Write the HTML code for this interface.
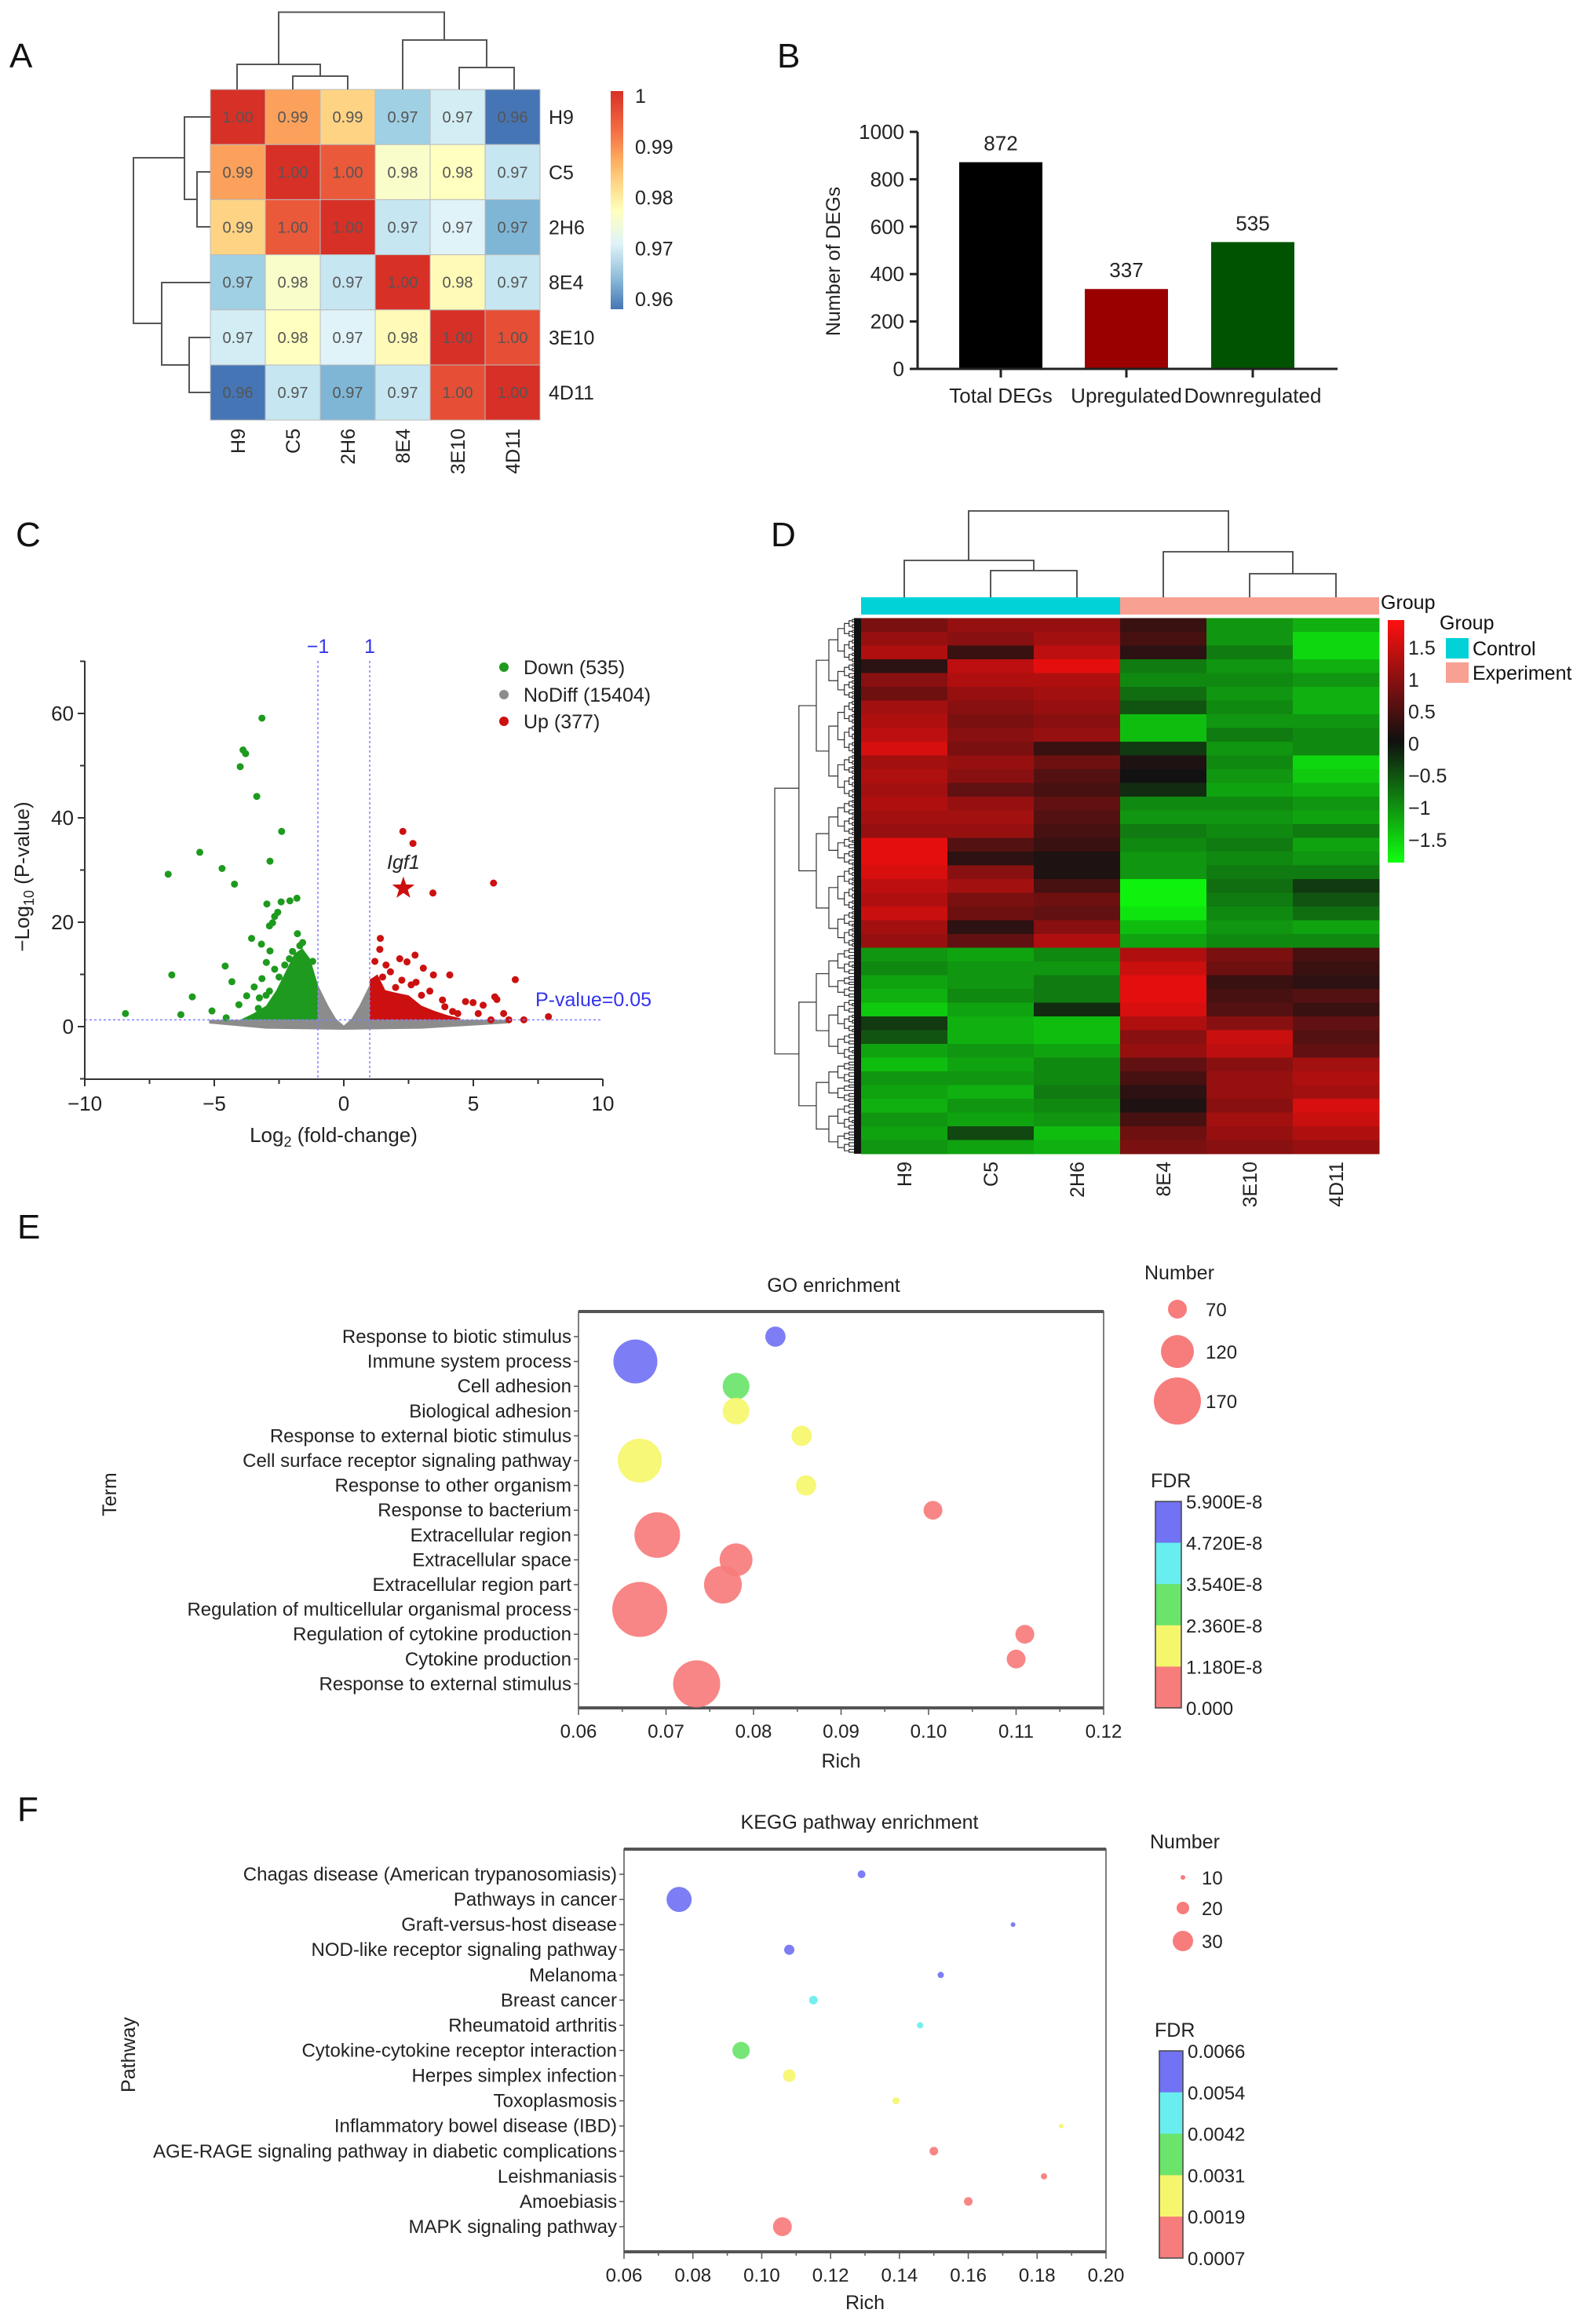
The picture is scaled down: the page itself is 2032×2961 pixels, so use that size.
<!DOCTYPE html>
<html><head><meta charset="utf-8"><title>DEG analysis figure</title>
<style>
html,body{margin:0;padding:0;background:#fff;}
svg{display:block;font-family:"Liberation Sans",sans-serif;}
</style></head>
<body>
<svg id="fig" xmlns="http://www.w3.org/2000/svg" width="2032" height="2961" viewBox="0 0 2032 2961">
<defs>
<linearGradient id="gradA" x1="0" y1="0" x2="0" y2="1">
<stop offset="0" stop-color="#d73027"/><stop offset="0.18" stop-color="#f46d43"/><stop offset="0.32" stop-color="#fdae61"/><stop offset="0.45" stop-color="#fee090"/><stop offset="0.55" stop-color="#ffffbf"/><stop offset="0.7" stop-color="#e0f3f8"/><stop offset="0.85" stop-color="#91bfdb"/><stop offset="1" stop-color="#4575b4"/>
</linearGradient>
<linearGradient id="gradD" x1="0" y1="0" x2="0" y2="1">
<stop offset="0" stop-color="#ff1010"/><stop offset="0.5" stop-color="#101010"/><stop offset="1" stop-color="#10ff10"/>
</linearGradient>
</defs>
<g font-size="44" fill="#111">
<text x="12" y="86">A</text>
<text x="990" y="86">B</text>
<text x="20" y="696">C</text>
<text x="982" y="696">D</text>
<text x="22" y="1578">E</text>
<text x="22" y="2320">F</text>
</g>
<g id="pa"></g>
<g id="pb"></g>
<g id="pc"></g>
<g id="pd"></g>
<g id="pe"></g>
<g id="pf"></g>
</svg>
<script>
// ---------- DATA ----------
const sampleNames = ['H9','C5','2H6','8E4','3E10','4D11'];
const corrRowH9   = [1.000,0.990,0.986,0.969,0.973,0.960];
const corrRowC5   = [0.990,1.000,0.996,0.978,0.979,0.972];
const corrRow2H6  = [0.986,0.996,1.000,0.972,0.974,0.966];
const corrRow8E4  = [0.969,0.978,0.972,1.000,0.980,0.972];
const corrRow3E10 = [0.973,0.979,0.974,0.980,1.000,0.997];
const corrRow4D11 = [0.960,0.972,0.966,0.972,0.997,1.000];
const corrTicks = [1,0.99,0.98,0.97,0.96];

const degCategories = ['Total DEGs','Upregulated','Downregulated'];
const degValues = [872,337,535];
const degTicks = [0,200,400,600,800,1000];

const volcXTicks = [-10,-5,0,5,10];
const volcYTicks = [0,20,40,60];
const downX = [-3.16,-3.89,-3.79,-4.0,-3.36,-2.4,-5.56,-2.85,-6.78,-4.70,-4.22,-1.81,-2.42,-2.08,-2.97,-2.55,-2.67,-2.75,-2.87,-3.56,-3.18,-4.58,-2.85,-2.99,-6.64,-4.32,-3.16,-5.85,-5.09,-8.43,-6.29,-4.05,-3.75,-4.54,-3.46,-3.26,-2.87,-2.67,-2.28,-1.98,-1.79,-1.59,-1.49,-1.4,-1.2,-1.7,-2.1,-2.5,-3.0,-3.3];
const downY = [59.1,53,52.3,49.8,44.1,37.4,33.4,31.7,29.2,30.3,27.3,24.6,23.9,24.1,23.5,21.9,21.1,19.9,19.3,16.9,15.8,11.6,14.5,12.3,9.9,8.6,9.2,5.7,3.0,2.5,2.3,4.2,5.9,1.7,7.6,5.5,6.8,11,11.8,14.4,17.8,16.1,12.7,10.1,12.5,15.5,13.0,9.5,6.0,3.5];
const upX = [2.28,2.67,5.78,3.44,1.41,1.39,2.16,2.44,2.75,1.63,4.09,6.62,3.46,3.07,2.79,2.24,5.83,5.91,4.7,4.99,5.38,3.81,3.32,4.40,6.17,6.37,6.95,7.9,5.68,5.19,1.2,1.8,2.0,2.6,3.0,3.9,4.2,1.5];
const upY = [37.4,35.1,27.5,25.6,16.9,14.8,13,12.4,13.7,11.8,9.9,9,9.9,11.2,8.5,8.9,5.7,5.2,4.8,4.6,4.1,5.1,6.8,2.5,2.5,1.3,1.3,1.9,1.3,2.5,12.5,10.5,7.5,8.0,6.0,3.8,2.9,9.5];
const downDenseX = [-4.0,-3.5,-3.0,-2.6,-2.2,-1.9,-1.6,-1.3,-1.0,-1.0];
const downDenseY = [1.3,2.5,4.0,7.0,11.0,14.0,15.0,13.0,8.0,1.3];
const upDenseX = [1.0,1.0,1.3,1.6,2.0,2.5,3.0,3.5,4.0,4.5,4.5];
const upDenseY = [1.3,9.0,10.0,7.0,6.5,6.0,4.0,3.0,2.2,1.6,1.3];
const noDiffX = [-5.2,-1.0,-1.0,-0.6,-0.3,0.0,0.3,0.6,1.0,1.0,6.3,6.3,3.0,0.0,-3.0,-5.2];
const noDiffY = [1.3,1.3,8.0,4.0,1.5,0.2,1.5,4.0,8.0,1.3,1.3,0.6,-0.4,-0.6,-0.4,0.6];
const igf1X = 2.3, igf1Y = 26.5;

const exprH9   = [0.8,1.0,1.2,0.2,0.9,0.7,1.1,1.2,1.3,1.5,1.1,1.2,1.1,1.2,1.1,1.0,1.6,1.6,1.5,1.3,1.2,1.4,1.1,1.0,-1.0,-0.9,-1.1,-1.2,-1.4,-0.3,-0.5,-1.1,-1.3,-1.0,-1.1,-1.2,-1.0,-1.1,-1.0];
const exprC5   = [1.0,0.9,0.3,1.3,1.2,1.0,0.9,0.8,0.9,0.8,1.0,0.9,0.6,1.0,1.1,1.0,0.5,0.2,0.9,1.1,0.8,0.7,0.2,0.6,-1.1,-1.0,-1.0,-0.9,-1.1,-1.2,-1.2,-1.0,-1.1,-1.0,-1.2,-1.0,-1.1,-0.4,-1.1];
const expr2H6  = [1.0,1.1,1.3,1.6,1.2,1.1,1.0,0.9,1.0,0.3,0.7,0.5,0.4,0.6,0.5,0.4,0.3,0.1,0.1,0.4,0.7,0.6,0.9,1.2,-0.9,-1.0,-0.8,-0.8,-0.2,-1.3,-1.3,-1.1,-0.9,-0.9,-0.8,-0.9,-1.0,-1.3,-1.2];
const expr8E4  = [0.3,0.4,0.2,-0.8,-0.9,-0.7,-0.5,-1.3,-1.3,-0.3,0.1,0.0,-0.2,-0.9,-1.0,-0.8,-0.9,-1.0,-1.0,-1.7,-1.7,-1.6,-1.3,-1.1,1.2,1.4,1.6,1.6,1.5,1.2,0.9,1.0,0.6,0.4,0.2,0.1,0.4,0.7,0.8];
const expr3E10 = [-1.0,-1.0,-0.8,-1.0,-0.9,-1.0,-0.9,-1.0,-0.8,-1.0,-0.9,-1.0,-1.1,-0.9,-1.0,-0.9,-0.8,-0.9,-0.8,-0.7,-0.8,-0.9,-1.0,-0.9,0.8,0.7,0.3,0.4,0.5,0.9,1.4,1.3,0.9,1.0,1.0,0.9,1.1,1.0,0.9];
const expr4D11 = [-1.2,-1.5,-1.5,-1.2,-1.0,-1.2,-1.2,-1.0,-0.9,-0.9,-1.5,-1.4,-1.2,-1.0,-1.1,-0.8,-1.1,-1.0,-0.8,-0.3,-0.5,-0.7,-1.1,-0.9,0.4,0.3,0.2,0.5,0.3,0.6,0.5,0.6,1.1,1.2,1.1,1.5,1.4,1.2,1.0];
const exprTicks = [1.5,1,0.5,0,-0.5,-1,-1.5];

const goTerms = ['Response to biotic stimulus','Immune system process','Cell adhesion','Biological adhesion','Response to external biotic stimulus','Cell surface receptor signaling pathway','Response to other organism','Response to bacterium','Extracellular region','Extracellular space','Extracellular region part','Regulation of multicellular organismal process','Regulation of cytokine production','Cytokine production','Response to external stimulus'];
const goRich = [0.0825,0.0665,0.078,0.078,0.0855,0.067,0.086,0.1005,0.069,0.078,0.0765,0.067,0.111,0.110,0.0735];
const goNumber = [75,159,98,98,75,159,75,70,165,120,137,198,70,70,170];
const goFdr = [5.2e-8,5.2e-8,3.0e-8,1.6e-8,1.6e-8,1.6e-8,1.6e-8,0.5e-8,0.5e-8,0.5e-8,0.5e-8,0.5e-8,0.5e-8,0.5e-8,0.5e-8];
const goXTicks = [0.06,0.07,0.08,0.09,0.10,0.11,0.12];
const goSizeLegend = [70,120,170];
const goFdrTicks = ['5.900E-8','4.720E-8','3.540E-8','2.360E-8','1.180E-8','0.000'];

const keggTerms = ['Chagas disease (American trypanosomiasis)','Pathways in cancer','Graft-versus-host disease','NOD-like receptor signaling pathway','Melanoma','Breast cancer','Rheumatoid arthritis','Cytokine-cytokine receptor interaction','Herpes simplex infection','Toxoplasmosis','Inflammatory bowel disease (IBD)','AGE-RAGE signaling pathway in diabetic complications','Leishmaniasis','Amoebiasis','MAPK signaling pathway'];
const keggRich = [0.129,0.076,0.173,0.108,0.152,0.115,0.146,0.094,0.108,0.139,0.187,0.150,0.182,0.160,0.106];
const keggNumber = [14,36,10,17,12,15,12,26,20,13,10,15,12,15,28];
const keggFdr = [0.0060,0.0060,0.0060,0.0060,0.0060,0.0048,0.0048,0.0036,0.0025,0.0025,0.0025,0.0012,0.0012,0.0012,0.0012];
const keggXTicks = [0.06,0.08,0.10,0.12,0.14,0.16,0.18,0.20];
const keggSizeLegend = [10,20,30];
const keggFdrTicks = ['0.0066','0.0054','0.0042','0.0031','0.0019','0.0007'];

// ---------- HELPERS ----------
const NS='http://www.w3.org/2000/svg';
function mk(parent,tag,attrs,text){const e=document.createElementNS(NS,tag);for(const k in attrs)e.setAttribute(k,attrs[k]);if(text!=null)e.textContent=text;parent.appendChild(e);return e;}
function lerp(a,b,t){return a+(b-a)*t;}
let el;

// ---------- PANEL A ----------
(function(){
const g=document.getElementById('pa');
const corr=[corrRowH9,corrRowC5,corrRow2H6,corrRow8E4,corrRow3E10,corrRow4D11];
const x0=268,y0=114,cw=70,ch=70.2;
const stops=[[0.96,[69,117,180]],[0.965,[116,173,209]],[0.970,[171,217,233]],[0.974,[224,243,248]],[0.979,[255,255,191]],[0.985,[254,224,144]],[0.989,[253,174,97]],[0.994,[244,109,67]],[1.0,[215,48,39]]];
function col(v){for(let i=1;i<stops.length;i++){if(v<=stops[i][0]){const t=(v-stops[i-1][0])/(stops[i][0]-stops[i-1][0]);const a=stops[i-1][1],b=stops[i][1];return 'rgb('+a.map((c,j)=>Math.round(lerp(c,b[j],t))).join(',')+')';}}return 'rgb(215,48,39)';}
corr.forEach((row,r)=>row.forEach((v,c)=>{
 el=mk(g,'rect',{x:x0+c*cw,y:y0+r*ch,width:cw,height:ch,fill:col(v),stroke:'#bbb','stroke-width':1});
 
 
 el=mk(g,'text',{x:x0+c*cw+cw/2,y:y0+r*ch+ch/2+7,'text-anchor':'middle','font-size':20,fill:'#555'},v.toFixed(2));
 
 
}));
sampleNames.forEach((n,i)=>{
 el=mk(g,'text',{x:699,y:y0+i*ch+ch/2+9,'font-size':25,fill:'#222'},n);
 
 
 const cx=x0+i*cw+cw/2;
 el=mk(g,'text',{x:0,y:0,'font-size':25,fill:'#222','text-anchor':'end',transform:'translate('+(cx+9)+',546) rotate(-90)'},n);
 
 
});
const sg={stroke:'#555','stroke-width':2,fill:'none'};
const topPaths=['M373,114V97H443V114','M302,114V82H408V97','M585,114V86H655V86V114','M513,114V51H620V86','M355,82V15.5H566V51'];
topPaths.forEach(d=>{el=mk(g,'path',Object.assign({d:d},sg));});
const leftPaths=['M268,219H251V289H268','M268,149H235V254H251','M268,430H241V500H268','M268,360H206V465H241','M235,201H170V412H206'];
leftPaths.forEach(d=>{el=mk(g,'path',Object.assign({d:d},sg));});
el=mk(g,'rect',{x:778,y:116,width:16,height:278,fill:'url(#gradA)'});


corrTicks.forEach(t=>{
 const y=122+(1-t)/0.04*259;
 el=mk(g,'text',{x:809,y:y+9,'font-size':25,fill:'#222'},String(t));
 
 
});
})();

// ---------- PANEL B ----------
(function(){
const g=document.getElementById('pb');
const yS=v=>470-v/1000*302;
const centers=[1275,1435,1596], bw=106, cols=['#000000','#9b0000','#005300'];
degTicks.forEach(t=>{
 el=mk(g,'line',{x1:1159,x2:1169,y1:yS(t),y2:yS(t),stroke:'#222','stroke-width':3});
 
 
 el=mk(g,'text',{x:1152,y:yS(t)+9,'text-anchor':'end','font-size':26,fill:'#222'},String(t));
 
 
});
degValues.forEach((v,i)=>{
 el=mk(g,'rect',{x:centers[i]-bw/2,y:yS(v),width:bw,height:470-yS(v),fill:cols[i]});
 
 
 el=mk(g,'text',{x:centers[i],y:yS(v)-15,'text-anchor':'middle','font-size':26,fill:'#222'},String(v));
 
 
 el=mk(g,'line',{x1:centers[i],x2:centers[i],y1:470,y2:481,stroke:'#222','stroke-width':3});
 
 
 el=mk(g,'text',{x:centers[i],y:513,'text-anchor':'middle','font-size':26,fill:'#222'},degCategories[i]);
 
 
});
el=mk(g,'path',{d:'M1169,168V470H1704',stroke:'#222','stroke-width':3,fill:'none'});


el=mk(g,'text',{x:0,y:0,'text-anchor':'middle','font-size':25,fill:'#222',transform:'translate(1070,333) rotate(-90)'},'Number of DEGs');


})();

// ---------- PANEL C ----------
(function(){
const g=document.getElementById('pc');
const xS=v=>108+(v+10)*33, yS=v=>1308-v*6.65;
const pts=(xs,ys)=>xs.map((x,i)=>xS(x)+','+yS(ys[i])).join(' ');
el=mk(g,'polygon',{points:pts(noDiffX,noDiffY),fill:'#8c8c8c'});


el=mk(g,'polygon',{points:pts(downDenseX,downDenseY),fill:'#1e9a1e'});


el=mk(g,'polygon',{points:pts(upDenseX,upDenseY),fill:'#cc1010'});


downX.forEach((x,i)=>{el=mk(g,'circle',{cx:xS(x),cy:yS(downY[i]),r:4.5,fill:'#1e9a1e'});});
upX.forEach((x,i)=>{el=mk(g,'circle',{cx:xS(x),cy:yS(upY[i]),r:4.5,fill:'#cc1010'});});
const sc=[xS(igf1X),yS(igf1Y)];let sp=[];
for(let k=0;k<10;k++){const a=-Math.PI/2+k*Math.PI/5,r=k%2?6:15;sp.push((sc[0]+r*Math.cos(a)).toFixed(1)+','+(sc[1]+r*Math.sin(a)).toFixed(1));}
el=mk(g,'polygon',{points:sp.join(' '),fill:'#cc1010'});


el=mk(g,'text',{x:sc[0],y:sc[1]-25,'text-anchor':'middle','font-size':25,'font-style':'italic',fill:'#222'},'Igf1');


[-1,1].forEach(v=>{
 el=mk(g,'line',{x1:xS(v),x2:xS(v),y1:842,y2:1375,stroke:'#8080ff','stroke-width':1.5,'stroke-dasharray':'3,3'});
 
 
 el=mk(g,'text',{x:xS(v),y:832,'text-anchor':'middle','font-size':25,fill:'#3333ee'},v<0?'\u22121':'1');
 
 
});
el=mk(g,'line',{x1:108,x2:768,y1:yS(1.3),y2:yS(1.3),stroke:'#8080ff','stroke-width':1.5,'stroke-dasharray':'3,3'});


el=mk(g,'text',{x:682,y:1282,'font-size':25,fill:'#3333ee'},'P-value=0.05');


el=mk(g,'path',{d:'M108,842V1375H768',stroke:'#333','stroke-width':2,fill:'none'});


for(let v=-10;v<=10;v+=2.5){el=mk(g,'line',{x1:xS(v),x2:xS(v),y1:1375,y2:v%5===0?1384:1381,stroke:'#333','stroke-width':2});}
for(let v=-10;v<=70;v+=10){el=mk(g,'line',{x1:108,x2:v%20===0?99:102,y1:yS(v),y2:yS(v),stroke:'#333','stroke-width':2});}
volcXTicks.forEach(v=>{el=mk(g,'text',{x:xS(v),y:1415,'text-anchor':'middle','font-size':26,fill:'#222'},v<0?'\u2212'+(-v):String(v));});
volcYTicks.forEach(v=>{el=mk(g,'text',{x:94,y:yS(v)+9,'text-anchor':'end','font-size':26,fill:'#222'},String(v));});
el=mk(g,'text',{x:425,y:1455,'text-anchor':'middle','font-size':26,fill:'#222'});
el.innerHTML='Log<tspan font-size="18" dy="6">2</tspan><tspan dy="-6"> (fold-change)</tspan>';


el=mk(g,'text',{x:0,y:0,'text-anchor':'middle','font-size':26,fill:'#222',transform:'translate(37,1117) rotate(-90)'});
el.innerHTML='\u2212Log<tspan font-size="18" dy="6">10</tspan><tspan dy="-6"> (P-value)</tspan>';


const leg=[['Down (535)','#1e9a1e',850],['NoDiff (15404)','#8c8c8c',885],['Up (377)','#cc1010',919]];
leg.forEach(l=>{
 el=mk(g,'circle',{cx:642,cy:l[2],r:6,fill:l[1]});
 
 
 el=mk(g,'text',{x:667,y:l[2]+9,'font-size':25,fill:'#222'},l[0]);
 
 
});
})();

// ---------- PANEL D ----------
(function(){
const g=document.getElementById('pd');
const cols=[exprH9,exprC5,expr2H6,expr8E4,expr3E10,expr4D11];
const x0=1097,y0=787.5,W=660,H=682.5,nR=exprH9.length,cw=W/6,rh=H/nR;
function col(v){const t=Math.min(Math.abs(v)/1.8,1);const hi=Math.round(18+t*237),lo=Math.round(18-t*4);return v>=0?'rgb('+hi+','+lo+','+lo+')':'rgb('+lo+','+hi+','+lo+')';}
cols.forEach((arr,c)=>arr.forEach((v,r)=>{
 el=mk(g,'rect',{x:x0+c*cw,y:y0+r*rh,width:cw+0.5,height:rh+0.5,fill:col(v)});
 
 
}));
el=mk(g,'rect',{x:1097,y:761,width:330,height:22,fill:'#00d2d8'});


el=mk(g,'rect',{x:1427,y:761,width:330,height:22,fill:'#f8a092'});


el=mk(g,'text',{x:1759,y:776,'font-size':25,fill:'#111'},'Group');


const sg={stroke:'#444','stroke-width':1.8,fill:'none'};
['M1262,761V727H1372V761','M1152,761V714H1317V727','M1592,761V731H1702V761','M1482,761V703H1647V731','M1234,714V651H1565V703'].forEach(d=>{
 el=mk(g,'path',Object.assign({d:d},sg));
 
 
});
function tree(a,b,depth){
 const xx=1097-110*Math.pow(0.72,depth);
 if(b-a<5||depth>9){return {y:(a+b)/2,x:1097};}
 const split=depth===0?1207:a+(b-a)*(depth%2?0.55:0.45);
 const t1=tree(a,split,depth+1),t2=tree(split,b,depth+1);
 el=mk(g,'path',{d:'M'+t1.x+','+t1.y+'H'+xx+'V'+t2.y+'H'+t2.x,stroke:'#333','stroke-width':1.2,fill:'none'});
 
 
 return {y:(t1.y+t2.y)/2,x:xx};
}
tree(787.5,1470,0);
el=mk(g,'rect',{x:1088,y:787.5,width:9,height:682.5,fill:'#111'});


sampleNames.forEach((n,i)=>{
 el=mk(g,'text',{x:0,y:0,'font-size':25,fill:'#222','text-anchor':'end',transform:'translate('+(x0+i*cw+cw/2+9)+',1480) rotate(-90)'},n);
 
 
});
el=mk(g,'rect',{x:1768,y:790,width:21,height:309,fill:'url(#gradD)'});


exprTicks.forEach((t,i)=>{
 el=mk(g,'text',{x:1794,y:834+i*40.8,'font-size':25,fill:'#222'},t<0?'\u2212'+(-t):String(t));
 
 
});
el=mk(g,'text',{x:1834,y:802,'font-size':25,fill:'#111'},'Group');


[['Control','#00d2d8',813],['Experiment','#f8a092',844]].forEach(l=>{
 el=mk(g,'rect',{x:1842,y:l[2],width:29,height:26,fill:l[1]});
 
 
 el=mk(g,'text',{x:1876,y:l[2]+22,'font-size':25,fill:'#111'},l[0]);
 
 
});
})();

// ---------- PANELS E & F ----------
function bubble(g,cfg){
 const xS=v=>cfg.left+(v-cfg.xMin)/(cfg.xMax-cfg.xMin)*(cfg.right-cfg.left);
 const yS=i=>cfg.row0+i*cfg.rowStep;
 const rS=n=>cfg.r0+(n-cfg.n0)/(cfg.n1-cfg.n0)*(cfg.r1-cfg.r0);
 const segCols=['#7272f4','#68eeee','#6ae46a','#f6f66c','#f77c7c'];
 const fc=f=>{const t=(cfg.fMax-f)/(cfg.fMax-cfg.fMin);return segCols[Math.min(4,Math.max(0,Math.floor(t*5)))];};
 el=mk(g,'rect',{x:cfg.left,y:cfg.top,width:cfg.right-cfg.left,height:cfg.bottom-cfg.top,fill:'none',stroke:'#555','stroke-width':1.5});
 
 
 el=mk(g,'line',{x1:cfg.left,x2:cfg.right,y1:cfg.top,y2:cfg.top,stroke:'#555','stroke-width':4});
 
 
 el=mk(g,'line',{x1:cfg.left,x2:cfg.right,y1:cfg.bottom,y2:cfg.bottom,stroke:'#555','stroke-width':4});
 
 
 cfg.terms.forEach((t,i)=>{
  el=mk(g,'line',{x1:cfg.left-6,x2:cfg.left,y1:yS(i),y2:yS(i),stroke:'#555','stroke-width':1.5});
  
  
  el=mk(g,'text',{x:cfg.left-9,y:yS(i)+8,'text-anchor':'end','font-size':24,fill:'#222'},t);
  
  
 });
 cfg.rich.forEach((v,i)=>{
  el=mk(g,'circle',{cx:xS(v),cy:yS(i),r:rS(cfg.num[i]),fill:fc(cfg.fdr[i]),'fill-opacity':0.92});
  
  
 });
 const half=(cfg.xTicks[1]-cfg.xTicks[0])/2;
 cfg.xTicks.forEach((v,i)=>{
  el=mk(g,'line',{x1:xS(v),x2:xS(v),y1:cfg.bottom,y2:cfg.bottom+9,stroke:'#555','stroke-width':1.5});
  
  
  if(i<cfg.xTicks.length-1){el=mk(g,'line',{x1:xS(v+half),x2:xS(v+half),y1:cfg.bottom,y2:cfg.bottom+5,stroke:'#555','stroke-width':1.5});}
  el=mk(g,'text',{x:xS(v),y:cfg.bottom+38,'text-anchor':'middle','font-size':24,fill:'#222'},v.toFixed(2));
  
  
 });
 el=mk(g,'text',{x:(cfg.left+cfg.right)/2,y:cfg.richY,'text-anchor':'middle','font-size':25,fill:'#222'},'Rich');
 
 
 el=mk(g,'text',{x:0,y:0,'text-anchor':'middle','font-size':25,fill:'#222',transform:'translate('+cfg.yTitleX+','+cfg.yTitleY+') rotate(-90)'},cfg.yTitle);
 
 
 el=mk(g,'text',{x:cfg.titleX,y:cfg.titleY,'text-anchor':'middle','font-size':25,fill:'#222'},cfg.title);
 
 
 el=mk(g,'text',{x:cfg.legX-42,y:cfg.numY,'font-size':25,fill:'#222'},'Number');
 
 
 cfg.sizeLeg.forEach((n,i)=>{
  el=mk(g,'circle',{cx:cfg.legX,cy:cfg.sizeY[i],r:rS(n),fill:'#f77c7c'});
  
  
  el=mk(g,'text',{x:cfg.legX+cfg.legLabelDx,y:cfg.sizeY[i]+9,'font-size':24,fill:'#222'},String(n));
  
  
 });
 el=mk(g,'text',{x:cfg.cbX-6,y:cfg.cbTop-18,'font-size':25,fill:'#222'},'FDR');
 
 
 const sh=(cfg.cbBot-cfg.cbTop)/5;
 segCols.forEach((c,i)=>{el=mk(g,'rect',{x:cfg.cbX,y:cfg.cbTop+i*sh,width:cfg.cbW,height:sh+0.5,fill:c});});
 el=mk(g,'rect',{x:cfg.cbX,y:cfg.cbTop,width:cfg.cbW,height:cfg.cbBot-cfg.cbTop,fill:'none',stroke:'#444','stroke-width':1.5});
 
 
 cfg.fTicks.forEach((t,i)=>{
  el=mk(g,'text',{x:cfg.cbX+cfg.cbW+6,y:cfg.cbTop+i*sh+9,'font-size':24,fill:'#222'},t);
  
  
 });
}
bubble(document.getElementById('pe'),{left:737,right:1406,top:1671,bottom:2176,xMin:0.06,xMax:0.12,row0:1703,rowStep:31.6,
 terms:goTerms,rich:goRich,num:goNumber,fdr:goFdr,n0:70,n1:170,r0:12,r1:30,fMax:5.9e-8,fMin:0,xTicks:goXTicks,
 richY:2252,yTitle:'Term',yTitleX:148,yTitleY:1904,title:'GO enrichment',titleX:1062,titleY:1646,
 legX:1500,legLabelDx:36,numY:1630,sizeLeg:goSizeLegend,sizeY:[1668,1722,1785],cbX:1472,cbW:33,cbTop:1913,cbBot:2176,fTicks:goFdrTicks});
bubble(document.getElementById('pf'),{left:795,right:1409,top:2356,bottom:2869,xMin:0.06,xMax:0.20,row0:2388,rowStep:32.07,
 terms:keggTerms,rich:keggRich,num:keggNumber,fdr:keggFdr,n0:10,n1:30,r0:3,r1:13,fMax:0.0066,fMin:0.0007,xTicks:keggXTicks,
 richY:2942,yTitle:'Pathway',yTitleX:172,yTitleY:2618,title:'KEGG pathway enrichment',titleX:1095,titleY:2330,
 legX:1507,legLabelDx:24,numY:2355,sizeLeg:keggSizeLegend,sizeY:[2392,2431,2473],cbX:1477,cbW:30,cbTop:2613,cbBot:2877,fTicks:keggFdrTicks});
</script>
</body></html>
